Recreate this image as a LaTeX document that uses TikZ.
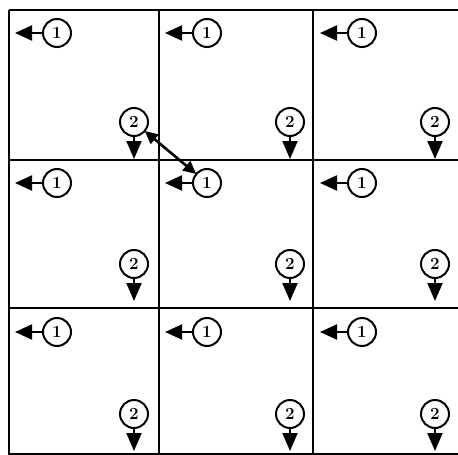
\documentclass[tikz,border=0pt]{standalone}
\usetikzlibrary{arrows.meta}
\begin{document}
\begin{tikzpicture}[x=1pt,y=-1pt,
  gridline/.style={line width=2pt},
  num/.style={circle,draw,line width=2pt,inner sep=0pt,minimum size=28pt,font=\fontsize{17}{17}\selectfont\bfseries},
  leftarrow/.style={line width=2pt,-{Triangle[length=17pt,width=15pt]}},
  downarrow/.style={line width=2pt,-{Triangle[length=18pt,width=15pt]}},
  link/.style={line width=2.6pt,{Triangle[length=13pt,width=12pt]}-{Triangle[length=13pt,width=12pt]},shorten <=-1pt,shorten >=-1pt}]
\useasboundingbox (0,0) rectangle (458,455);
% grid
\draw[gridline] (9,10) -- (462,10);
\draw[gridline] (9,160) -- (462,160);
\draw[gridline] (9,308) -- (462,308);
\draw[gridline] (9,454) -- (462,454);
\draw[gridline] (9,10) -- (9,458);
\draw[gridline] (159,10) -- (159,458);
\draw[gridline] (313,10) -- (313,458);
% markers
\foreach \c/\xa/\xb in {0/57/134,1/207/290,2/362/435}{
  \foreach \r/\ya/\yb in {0/33/122,1/183/264,2/332/414}{
    \node[num] (a-\r-\c) at (\xa,\ya) {1};
    \draw[leftarrow] (a-\r-\c.west) -- ++(-27,0);
    \node[num] (b-\r-\c) at (\xb,\yb) {2};
    \draw[downarrow] (b-\r-\c.south) -- ++(0,22);
  }
}
\draw[link] (b-0-0) -- (a-1-1);
\end{tikzpicture}
\end{document}
